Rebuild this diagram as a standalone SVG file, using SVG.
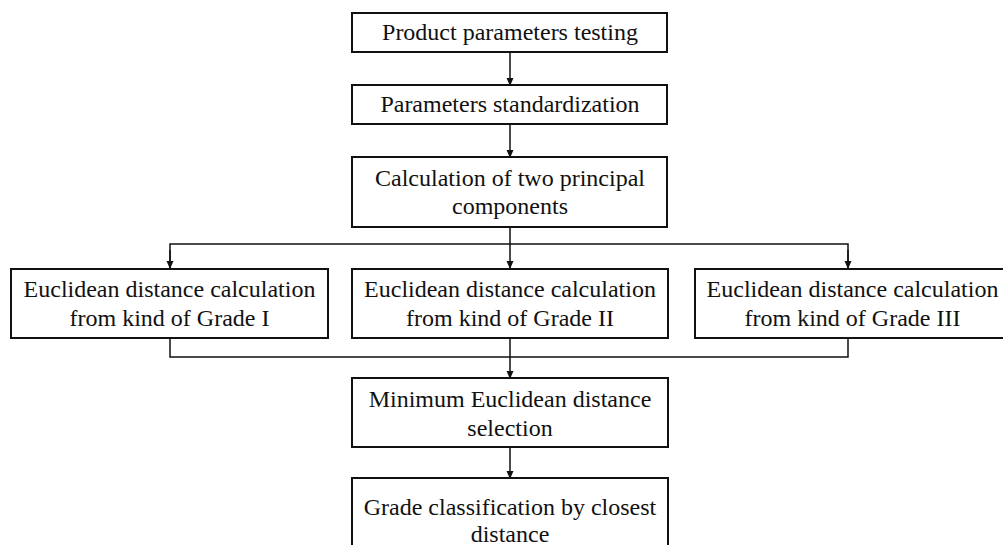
<svg xmlns="http://www.w3.org/2000/svg" width="1003" height="545" viewBox="0 0 1003 545">
  <defs>
    <marker id="arr" markerWidth="8" markerHeight="8" refX="7" refY="4" orient="auto" markerUnits="userSpaceOnUse">
      <path d="M0,0.5 L8,4 L0,7.5 Z" fill="#111"/>
    </marker>
    <style>
      .box { fill: #fff; stroke: #111; stroke-width: 2; }
      .lbl { font-family: "Liberation Serif", "Times New Roman", serif; font-size: 24px; fill: #111; text-anchor: middle; }
      .con { fill: none; stroke: #111; stroke-width: 1.5; }
    </style>
  </defs>
  <rect width="1003" height="545" fill="#fff"/>

  <g id="connectors">
    <line class="con" x1="510" y1="52" x2="510" y2="85" marker-end="url(#arr)"/>
    <line class="con" x1="510" y1="124" x2="510" y2="157" marker-end="url(#arr)"/>
    <line class="con" x1="510" y1="227" x2="510" y2="268" marker-end="url(#arr)"/>
    <polyline class="con" points="170,268 170,244 848,244 848,268"/>
    <line class="con" x1="170" y1="250" x2="170" y2="268" marker-end="url(#arr)"/>
    <line class="con" x1="848" y1="250" x2="848" y2="268" marker-end="url(#arr)"/>
    <polyline class="con" points="170,338 170,357 848,357 848,338"/>
    <line class="con" x1="510" y1="338" x2="510" y2="378" marker-end="url(#arr)"/>
    <line class="con" x1="510" y1="447" x2="510" y2="478" marker-end="url(#arr)"/>
  </g>

  <g id="n1">
    <rect class="box" x="352" y="13" width="315" height="39"/>
    <text class="lbl" x="510" y="40">Product parameters testing</text>
  </g>
  <g id="n2">
    <rect class="box" x="352" y="85" width="315" height="39"/>
    <text class="lbl" x="510" y="112">Parameters standardization</text>
  </g>
  <g id="n3">
    <rect class="box" x="352" y="157" width="315" height="70"/>
    <text class="lbl" x="510" y="186">Calculation of two principal</text>
    <text class="lbl" x="510" y="214">components</text>
  </g>
  <g id="n4">
    <rect class="box" x="11" y="269" width="317" height="69"/>
    <text class="lbl" x="169.5" y="297">Euclidean distance calculation</text>
    <text class="lbl" x="169.5" y="326">from kind of Grade I</text>
  </g>
  <g id="n5">
    <rect class="box" x="352" y="269" width="316" height="69"/>
    <text class="lbl" x="510" y="297">Euclidean distance calculation</text>
    <text class="lbl" x="510" y="326">from kind of Grade II</text>
  </g>
  <g id="n6">
    <rect class="box" x="695" y="269" width="320" height="69"/>
    <text class="lbl" x="852.5" y="297">Euclidean distance calculation</text>
    <text class="lbl" x="852.5" y="326">from kind of Grade III</text>
  </g>
  <g id="n7">
    <rect class="box" x="352" y="378" width="316" height="69"/>
    <text class="lbl" x="510" y="407">Minimum Euclidean distance</text>
    <text class="lbl" x="510" y="436">selection</text>
  </g>
  <g id="n8">
    <rect class="box" x="352" y="478" width="316" height="80"/>
    <text class="lbl" x="510" y="515">Grade classification by closest</text>
    <text class="lbl" x="510" y="542">distance</text>
  </g>
</svg>
